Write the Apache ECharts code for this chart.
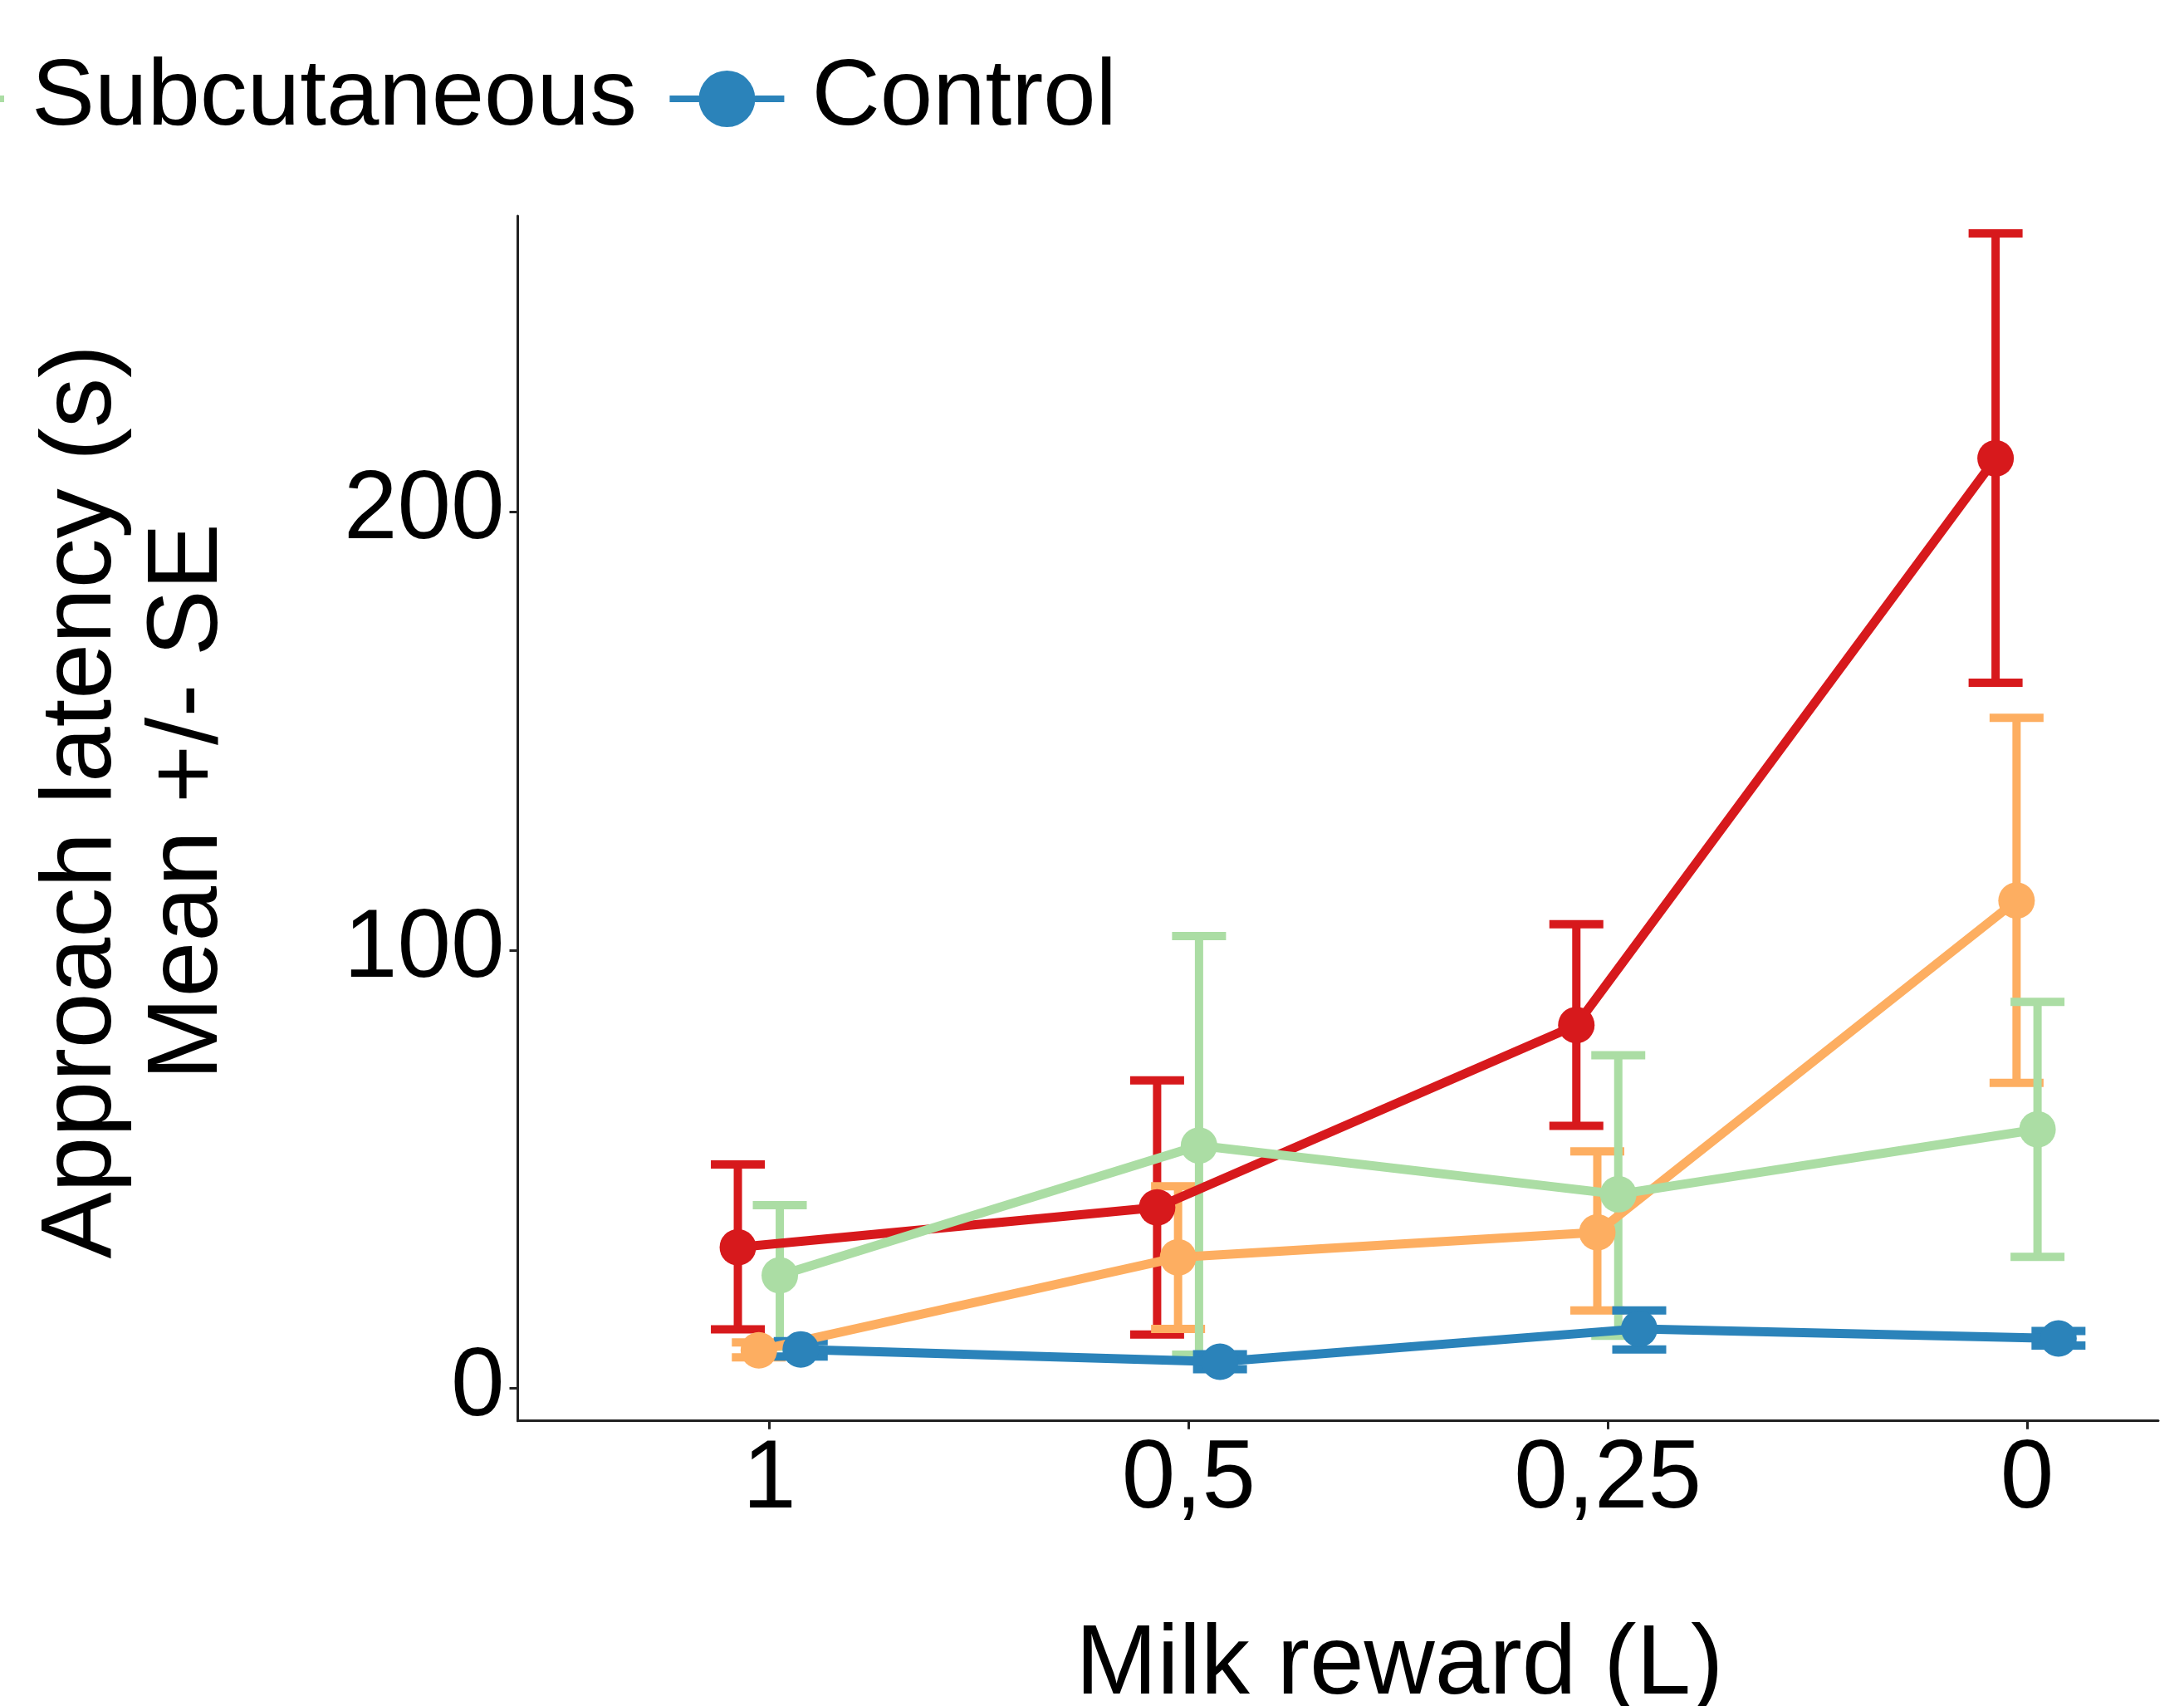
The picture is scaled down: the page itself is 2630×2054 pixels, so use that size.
<!DOCTYPE html>
<html>
<head>
<meta charset="utf-8">
<script src="https://cdn.jsdelivr.net/npm/echarts@6/dist/echarts.min.js"></script>
<style>
html,body{margin:0;padding:0;background:#fff;}
#chart{width:2630px;height:2054px;}
</style>
</head>
<body>
<div id="chart"></div>
<script>
// ---- data ----
const categories = ['1', '0,5', '0,25', '0'];
const yTicks = [0, 100, 200];

const groupNames = ['Group 1', 'Group 2', 'Subcutaneous', 'Control'];
const groupColors = ['#D7191C', '#FDAE61', '#ABDDA4', '#2B83BA'];
const dodge = [-0.075, -0.025, 0.025, 0.075];

const redMean = [32.2, 41.3, 82.9, 212.2];
const redLow = [13.5, 12.3, 59.9, 161.0];
const redHigh = [51.1, 70.3, 105.9, 263.5];

const orangeMean = [8.7, 29.9, 35.6, 111.3];
const orangeLow = [7.1, 13.6, 17.8, 69.7];
const orangeHigh = [10.5, 46.1, 54.1, 153.0];

const greenMean = [25.8, 55.4, 44.3, 59.1];
const greenLow = [9.5, 7.7, 12.0, 30.0];
const greenHigh = [41.8, 103.2, 76.0, 88.2];

const blueMean = [8.9, 6.1, 13.6, 11.4];
const blueLow = [7.3, 4.4, 8.9, 9.8];
const blueHigh = [10.8, 7.8, 17.8, 13.1];

const means = [redMean, orangeMean, greenMean, blueMean];
const lows = [redLow, orangeLow, greenLow, blueLow];
const highs = [redHigh, orangeHigh, greenHigh, blueHigh];

// ---- chart ----
const FONT = 'Liberation Sans, Arial, sans-serif';
const chart = echarts.init(document.getElementById('chart'), null, {renderer: 'canvas'});

const keyIcon = 'path://M0 31 L35.3 31 L35.3 39 L0 39 Z M102.7 31 L138 31 L138 39 L102.7 39 Z M35 35 A34 34 0 1 1 103 35 A34 34 0 1 1 35 35 Z';

const series = [];
for (let g = 0; g < 4; g++) {
  const color = groupColors[g];
  series.push({
    type: 'custom',
    name: groupNames[g],
    silent: true,
    itemStyle: {color: color},
    encode: {x: 0, y: [1, 2]},
    data: categories.map((c, i) => [i + dodge[g], lows[g][i], highs[g][i]]),
    renderItem: function (params, api) {
      const x = api.value(0);
      const pLo = api.coord([x, api.value(1)]);
      const pHi = api.coord([x, api.value(2)]);
      const half = 32.5;
      const st = {stroke: color, lineWidth: 10, fill: null};
      return {
        type: 'group',
        children: [
          {type: 'line', shape: {x1: pLo[0], y1: pLo[1], x2: pHi[0], y2: pHi[1]}, style: st},
          {type: 'line', shape: {x1: pHi[0] - half, y1: pHi[1], x2: pHi[0] + half, y2: pHi[1]}, style: st},
          {type: 'line', shape: {x1: pLo[0] - half, y1: pLo[1], x2: pLo[0] + half, y2: pLo[1]}, style: st}
        ]
      };
    }
  });
  series.push({
    type: 'line',
    name: groupNames[g],
    data: categories.map((c, i) => [i + dodge[g], means[g][i]]),
    symbol: 'circle',
    symbolSize: 44,
    showSymbol: true,
    lineStyle: {color: color, width: 11},
    itemStyle: {color: color},
    emphasis: {disabled: true}
  });
}

const option = {
  animation: false,
  backgroundColor: '#ffffff',
  grid: {left: 623.5, right: 31, top: 260, bottom: 343.3, containLabel: false, outerBoundsMode: 'none'},
  legend: {
    data: [
      {name: 'Subcutaneous', icon: keyIcon, itemStyle: {color: groupColors[2]}},
      {name: 'Control', icon: keyIcon, itemStyle: {color: groupColors[3]}}
    ],
    left: -133,
    top: 62,
    padding: 0,
    itemWidth: 138,
    itemHeight: 68,
    itemGap: 39.5,
    selectedMode: false,
    textStyle: {fontFamily: FONT, fontSize: 114, color: '#000', padding: [0, 0, 0, 28]}
  },
  xAxis: {
    type: 'value',
    min: -0.6,
    max: 3.313,
    name: 'Milk reward (L)',
    nameLocation: 'middle',
    nameGap: 237,
    nameTextStyle: {fontFamily: FONT, fontSize: 118, color: '#000', padding: [0, 0, 0, 148]},
    axisLine: {show: true, onZero: false, lineStyle: {color: '#222', width: 3}},
    axisTick: {show: true, length: 10, lineStyle: {color: '#222', width: 3}, customValues: [0, 1, 2, 3]},
    axisLabel: {
      fontFamily: FONT, fontSize: 116, color: '#000', margin: 14,
      customValues: [0, 1, 2, 3],
      formatter: function (v) { return categories[Math.round(v)]; }
    },
    splitLine: {show: false}
  },
  yAxis: {
    type: 'value',
    min: -7.4,
    max: 267.5,
    name: 'Approach latency (s)\nMean +/- SE',
    nameLocation: 'middle',
    nameRotate: 90,
    nameGap: 332,
    nameTextStyle: {fontFamily: FONT, fontSize: 120, lineHeight: 128, color: '#000', align: 'center', padding: [0, 0, 0, 40]},
    axisLine: {show: true, onZero: false, lineStyle: {color: '#222', width: 3}},
    axisTick: {show: true, length: 10, lineStyle: {color: '#222', width: 3}, customValues: yTicks},
    axisLabel: {fontFamily: FONT, fontSize: 116, color: '#000', margin: 16, customValues: yTicks},
    splitLine: {show: false}
  },
  series: series
};
chart.setOption(option);
</script>
</body>
</html>
